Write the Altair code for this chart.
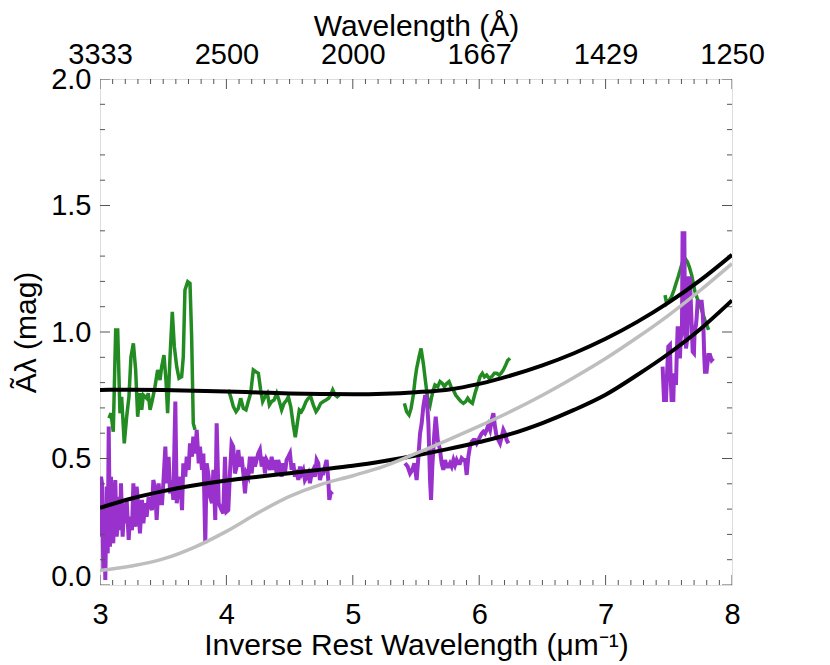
import altair as alt
import pandas as pd

# ---------------- data ----------------
X_DOMAIN = [3, 8]
Y_DOMAIN = [0, 2]

X_MAJOR = [3, 4, 5, 6, 7, 8]
BOTTOM_LABELS = ["3", "4", "5", "6", "7", "8"]
TOP_LABELS = ["3333", "2500", "2000", "1667", "1429", "1250"]
Y_MAJOR = [0, 0.5, 1.0, 1.5, 2.0]
Y_LABELS = ["0.0", "0.5", "1.0", "1.5", "2.0"]

X_TITLE = "Inverse Rest Wavelength (μm⁻¹)"
TOP_TITLE = "Wavelength (Å)"
Y_TITLE = "Ãλ  (mag)"

GREEN_SEG1 = [(3.071, 0.659), (3.087, 0.679), (3.105, 0.606), (3.124, 1.008), (3.140, 1.008),
              (3.158, 0.679), (3.171, 0.744), (3.192, 0.560), (3.211, 0.665), (3.229, 0.744),
              (3.245, 0.902), (3.264, 0.955), (3.282, 0.850), (3.298, 0.665), (3.316, 0.758),
              (3.330, 0.692), (3.343, 0.751), (3.369, 0.738), (3.382, 0.758), (3.396, 0.692),
              (3.414, 0.731), (3.435, 0.784), (3.456, 0.850), (3.475, 0.810), (3.488, 0.863),
              (3.506, 0.909), (3.522, 0.810), (3.535, 0.679), (3.554, 0.902), (3.572, 1.080),
              (3.588, 0.942), (3.607, 0.863), (3.625, 0.817), (3.646, 0.823), (3.659, 0.902),
              (3.672, 1.166), (3.694, 1.199), (3.712, 1.192), (3.725, 0.981), (3.738, 0.639),
              (3.752, 0.613)]
GREEN_SEG2 = [(4.015, 0.771), (4.034, 0.744), (4.055, 0.705), (4.076, 0.685), (4.094, 0.698),
              (4.113, 0.738), (4.134, 0.698), (4.155, 0.692), (4.173, 0.725), (4.192, 0.758),
              (4.213, 0.850), (4.232, 0.843), (4.253, 0.837), (4.271, 0.771), (4.287, 0.725),
              (4.305, 0.744), (4.324, 0.758), (4.340, 0.711), (4.358, 0.725), (4.377, 0.731),
              (4.398, 0.758), (4.419, 0.725), (4.437, 0.692), (4.456, 0.718), (4.477, 0.731),
              (4.490, 0.744), (4.509, 0.705), (4.529, 0.632), (4.545, 0.584), (4.561, 0.639),
              (4.577, 0.692), (4.593, 0.685), (4.608, 0.698), (4.630, 0.725), (4.648, 0.738),
              (4.667, 0.744), (4.688, 0.711), (4.709, 0.685), (4.727, 0.698), (4.746, 0.718),
              (4.767, 0.725), (4.788, 0.731), (4.809, 0.738), (4.825, 0.751), (4.841, 0.771),
              (4.859, 0.751), (4.877, 0.744), (4.893, 0.751)]
GREEN_SEG3 = [(5.408, 0.718), (5.426, 0.685), (5.445, 0.672), (5.461, 0.698), (5.479, 0.751),
              (5.492, 0.810), (5.505, 0.856), (5.524, 0.902), (5.540, 0.935), (5.558, 0.876),
              (5.577, 0.797), (5.592, 0.738), (5.611, 0.711), (5.624, 0.744), (5.637, 0.771),
              (5.650, 0.791), (5.672, 0.784), (5.690, 0.804), (5.708, 0.797), (5.724, 0.784),
              (5.743, 0.797), (5.761, 0.804), (5.777, 0.784), (5.795, 0.771), (5.814, 0.751),
              (5.835, 0.738), (5.856, 0.725), (5.875, 0.718), (5.893, 0.725), (5.909, 0.738),
              (5.927, 0.725), (5.946, 0.718), (5.967, 0.758), (5.988, 0.791), (6.006, 0.823),
              (6.025, 0.837), (6.041, 0.823), (6.059, 0.830), (6.078, 0.817), (6.099, 0.823),
              (6.120, 0.837), (6.138, 0.837), (6.157, 0.830), (6.173, 0.837), (6.191, 0.850),
              (6.210, 0.870), (6.225, 0.887), (6.244, 0.896)]
GREEN_SEG4 = [(7.470, 1.146), (7.483, 1.113), (7.504, 1.126), (7.522, 1.140), (7.541, 1.166),
              (7.557, 1.192), (7.575, 1.219), (7.594, 1.252), (7.609, 1.278), (7.628, 1.291),
              (7.646, 1.278), (7.662, 1.258), (7.681, 1.225), (7.694, 1.192), (7.707, 1.159),
              (7.725, 1.133), (7.747, 1.107), (7.768, 1.074), (7.786, 1.047), (7.805, 1.021),
              (7.815, 1.008)]

PURPLE_SEG1 = [(3.000, 0.191), (3.008, 0.428), (3.016, 0.402), (3.026, 0.059), (3.034, 0.323),
               (3.042, 0.020), (3.053, 0.389), (3.061, 0.125), (3.069, 0.626), (3.079, 0.151),
               (3.087, 0.428), (3.095, 0.217), (3.105, 0.165), (3.113, 0.323), (3.121, 0.415),
               (3.132, 0.191), (3.140, 0.244), (3.148, 0.349), (3.158, 0.217), (3.166, 0.402),
               (3.179, 0.191), (3.193, 0.323), (3.200, 0.244), (3.211, 0.336), (3.227, 0.178),
               (3.237, 0.270), (3.253, 0.217), (3.264, 0.402), (3.280, 0.230), (3.290, 0.389),
               (3.306, 0.296), (3.316, 0.204), (3.332, 0.336), (3.343, 0.244), (3.359, 0.323),
               (3.369, 0.270), (3.385, 0.349), (3.396, 0.323), (3.411, 0.296), (3.422, 0.415),
               (3.438, 0.375), (3.448, 0.257), (3.464, 0.402), (3.475, 0.323), (3.491, 0.323),
               (3.501, 0.402), (3.517, 0.547), (3.527, 0.402), (3.543, 0.507), (3.554, 0.362),
               (3.570, 0.415), (3.580, 0.336), (3.596, 0.725), (3.607, 0.323), (3.622, 0.389),
               (3.633, 0.428), (3.649, 0.296), (3.659, 0.481), (3.675, 0.428), (3.686, 0.507),
               (3.701, 0.455), (3.712, 0.560), (3.728, 0.507), (3.738, 0.586), (3.754, 0.520),
               (3.765, 0.613), (3.781, 0.481), (3.791, 0.547), (3.807, 0.455), (3.818, 0.520),
               (3.833, 0.165), (3.844, 0.481), (3.860, 0.428), (3.870, 0.349), (3.886, 0.323),
               (3.897, 0.455), (3.912, 0.257), (3.923, 0.639), (3.939, 0.323), (3.962, 0.296),
               (3.975, 0.283), (3.989, 0.507), (4.002, 0.290), (4.015, 0.296), (4.028, 0.441),
               (4.041, 0.560), (4.054, 0.547), (4.068, 0.441), (4.081, 0.468), (4.094, 0.534),
               (4.107, 0.468), (4.120, 0.507), (4.134, 0.441), (4.147, 0.362), (4.160, 0.441),
               (4.173, 0.428), (4.186, 0.507), (4.200, 0.441), (4.213, 0.507), (4.226, 0.468),
               (4.239, 0.494), (4.252, 0.520), (4.265, 0.534), (4.279, 0.468), (4.292, 0.507),
               (4.305, 0.441), (4.318, 0.494), (4.331, 0.481), (4.345, 0.455), (4.358, 0.507),
               (4.371, 0.455), (4.384, 0.494), (4.397, 0.441), (4.410, 0.494), (4.424, 0.468),
               (4.437, 0.428), (4.450, 0.481), (4.463, 0.441), (4.476, 0.494), (4.490, 0.507),
               (4.503, 0.520), (4.516, 0.455), (4.529, 0.481), (4.542, 0.428), (4.555, 0.455),
               (4.569, 0.415), (4.582, 0.468), (4.595, 0.441), (4.608, 0.455), (4.621, 0.415),
               (4.635, 0.428), (4.648, 0.441), (4.661, 0.402), (4.674, 0.441), (4.687, 0.455),
               (4.700, 0.428), (4.714, 0.494), (4.727, 0.481), (4.740, 0.415), (4.753, 0.441),
               (4.766, 0.441), (4.780, 0.468), (4.793, 0.494), (4.806, 0.415), (4.814, 0.336),
               (4.824, 0.362), (4.840, 0.369)]
PURPLE_SEG2 = [(5.413, 0.481), (5.434, 0.468), (5.453, 0.441), (5.471, 0.455), (5.487, 0.481),
               (5.505, 0.415), (5.519, 0.507), (5.532, 0.599), (5.545, 0.639), (5.558, 0.705),
               (5.571, 0.744), (5.585, 0.744), (5.598, 0.639), (5.611, 0.415), (5.619, 0.336),
               (5.629, 0.468), (5.645, 0.599), (5.656, 0.665), (5.672, 0.573), (5.690, 0.534),
               (5.703, 0.481), (5.716, 0.455), (5.730, 0.494), (5.743, 0.468), (5.756, 0.468),
               (5.769, 0.481), (5.782, 0.468), (5.796, 0.494), (5.809, 0.474), (5.822, 0.494),
               (5.835, 0.481), (5.848, 0.481), (5.861, 0.501), (5.875, 0.494), (5.888, 0.494),
               (5.901, 0.435), (5.914, 0.507), (5.927, 0.547), (5.941, 0.566), (5.954, 0.573),
               (5.967, 0.573), (5.980, 0.560), (5.993, 0.573), (6.006, 0.586), (6.020, 0.599),
               (6.033, 0.606), (6.046, 0.599), (6.059, 0.613), (6.072, 0.632), (6.086, 0.613),
               (6.099, 0.652), (6.112, 0.679), (6.125, 0.626), (6.138, 0.586), (6.152, 0.573),
               (6.165, 0.560), (6.178, 0.586), (6.191, 0.613), (6.204, 0.599), (6.217, 0.573),
               (6.231, 0.560)]
PURPLE_SEG3 = [(7.451, 0.863), (7.462, 0.731), (7.478, 0.731), (7.488, 0.856), (7.496, 0.942),
               (7.509, 0.949), (7.515, 0.817), (7.522, 0.731), (7.536, 0.731), (7.541, 0.837),
               (7.557, 0.791), (7.562, 0.896), (7.570, 1.015), (7.583, 1.015), (7.588, 0.896),
               (7.594, 0.975), (7.604, 1.001), (7.609, 1.390), (7.623, 1.390), (7.628, 1.028),
               (7.636, 0.935), (7.646, 0.975), (7.657, 1.212), (7.667, 1.212), (7.675, 1.107),
               (7.681, 1.028), (7.689, 0.922), (7.699, 0.916), (7.704, 1.001), (7.715, 1.028),
               (7.720, 1.054), (7.728, 1.120), (7.747, 1.120), (7.760, 1.120), (7.768, 1.080),
               (7.773, 1.028), (7.781, 0.896), (7.786, 0.843), (7.799, 0.843), (7.813, 0.909),
               (7.826, 0.909), (7.839, 0.889), (7.852, 0.896)]

MODEL_X = [3.0, 3.25, 3.5, 3.75, 4.0, 4.25, 4.5, 4.75, 5.0, 5.25, 5.5, 5.75, 6.0, 6.25,
           6.5, 6.75, 7.0, 7.25, 7.5, 7.75, 8.0]
BLACK_UPPER = [0.771, 0.772, 0.771, 0.768, 0.765, 0.761, 0.757, 0.755, 0.754, 0.756, 0.762,
               0.772, 0.795, 0.828, 0.868, 0.916, 0.973, 1.040, 1.117, 1.205, 1.305]
BLACK_LOWER = [0.305, 0.342, 0.371, 0.394, 0.413, 0.428, 0.442, 0.456, 0.471, 0.490, 0.512,
               0.537, 0.565, 0.597, 0.640, 0.692, 0.752, 0.830, 0.915, 1.012, 1.125]
GRAY_CURVE = [0.057, 0.075, 0.103, 0.150, 0.212, 0.285, 0.350, 0.398, 0.432, 0.470, 0.520,
              0.573, 0.628, 0.686, 0.750, 0.820, 0.895, 0.978, 1.067, 1.165, 1.270]

GREEN = "#228B22"
PURPLE = "#9932CC"
GRAY = "#BEBEBE"
FONT = "Liberation Sans"
AXIS_COLOR = "#555555"


def segments_frame(segs, name):
    rows = []
    for i, seg in enumerate(segs):
        for x, y in seg:
            rows.append({"x": x, "y": y, "seg": f"{name}{i}"})
    return pd.DataFrame(rows)


green_df = segments_frame([GREEN_SEG1, GREEN_SEG2, GREEN_SEG3, GREEN_SEG4], "g")
purple_df = segments_frame([PURPLE_SEG1, PURPLE_SEG2, PURPLE_SEG3], "p")
upper_df = pd.DataFrame({"x": MODEL_X, "y": BLACK_UPPER})
lower_df = pd.DataFrame({"x": MODEL_X, "y": BLACK_LOWER})
gray_df = pd.DataFrame({"x": MODEL_X, "y": GRAY_CURVE})

# tick positions (every 0.1)
x_ticks = [round(X_DOMAIN[0] + 0.1 * i, 1) for i in range(51)]
y_ticks = [round(Y_DOMAIN[0] + 0.1 * i, 1) for i in range(21)]


def is_major_val(v, majors):
    return any(abs(v - m) < 1e-6 for m in majors)


def label_expr(majors, labels):
    expr = "''"
    for m, lab in reversed(list(zip(majors, labels))):
        expr = f"abs(datum.value - {m}) < 0.001 ? '{lab}' : ({expr})"
    return expr


x_scale = alt.Scale(domain=X_DOMAIN, nice=False, zero=False)
y_scale = alt.Scale(domain=Y_DOMAIN, nice=False, zero=False)

common = dict(domain=False, grid=False, ticks=False,
              labelFont=FONT, labelFontSize=29, labelColor="black",
              labelFlush=False, labelOverlap=False,
              titleFont=FONT, titleFontSize=30, titleFontWeight="normal", titleColor="black")

bottom_axis = alt.Axis(orient="bottom", values=x_ticks, labelExpr=label_expr(X_MAJOR, BOTTOM_LABELS),
                       labelPadding=15, labelAngle=0,
                       title=X_TITLE, titlePadding=1, **common)
top_axis = alt.Axis(orient="top", values=x_ticks, labelExpr=label_expr(X_MAJOR, TOP_LABELS),
                    labelPadding=10, labelAngle=0,
                    title=TOP_TITLE, titlePadding=-1, **common)
left_axis = alt.Axis(orient="left", values=y_ticks, labelExpr=label_expr(Y_MAJOR, Y_LABELS),
                     labelPadding=9,
                     labelOffset={"condition": {"test": "abs(datum.value) < 0.001", "value": -9}, "value": 0},
                     title=Y_TITLE, titlePadding=9, **common)

# inward tick marks: a tick centred on the frame edge, clipped to the plot area
tick_rows = []
for v in x_ticks:
    big = is_major_val(v, X_MAJOR)
    tick_rows.append({"x": v, "y": Y_DOMAIN[0], "dir": "v", "major": big})
    tick_rows.append({"x": v, "y": Y_DOMAIN[1], "dir": "v", "major": big})
for v in y_ticks:
    big = is_major_val(v, Y_MAJOR)
    tick_rows.append({"x": X_DOMAIN[0], "y": v, "dir": "h", "major": big})
    tick_rows.append({"x": X_DOMAIN[1], "y": v, "dir": "h", "major": big})
ticks_df = pd.DataFrame(tick_rows)


def tick_layer(direction, major):
    sub = ticks_df[(ticks_df["dir"] == direction) & (ticks_df["major"] == major)]
    return alt.Chart(sub).mark_tick(
        orient="vertical" if direction == "v" else "horizontal",
        size=20 if major else 10, thickness=1, color=AXIS_COLOR, clip=True, opacity=1,
    ).encode(
        x=alt.X("x:Q", scale=x_scale, axis=None),
        y=alt.Y("y:Q", scale=y_scale, axis=None),
    )


green_layer = alt.Chart(green_df).mark_line(color=GREEN, strokeWidth=3.5, clip=True).encode(
    x=alt.X("x:Q", scale=x_scale, axis=bottom_axis),
    y=alt.Y("y:Q", scale=y_scale, axis=left_axis),
    detail="seg:N",
)
purple_layer = alt.Chart(purple_df).mark_line(color=PURPLE, strokeWidth=4, clip=True).encode(
    x=alt.X("x:Q", scale=x_scale, axis=top_axis),
    y=alt.Y("y:Q", scale=y_scale, axis=None),
    detail="seg:N",
)


def model_layer(df, color, width):
    return alt.Chart(df).mark_line(color=color, strokeWidth=width, interpolate="monotone", clip=True).encode(
        x=alt.X("x:Q", scale=x_scale, axis=None),
        y=alt.Y("y:Q", scale=y_scale, axis=None),
    )


chart = alt.layer(
    green_layer,
    purple_layer,
    tick_layer("v", True),
    tick_layer("v", False),
    tick_layer("h", True),
    tick_layer("h", False),
    model_layer(upper_df, "black", 4),
    model_layer(lower_df, "black", 4),
    model_layer(gray_df, GRAY, 3.5),
).resolve_axis(x="independent", y="independent").properties(
    width=632, height=506,
    autosize="none",
    padding={"left": 92, "top": 71, "right": 90, "bottom": 80},
).configure_view(stroke=AXIS_COLOR, strokeWidth=1.5).configure(font=FONT)

chart.save("out.html", embed_options={"renderer": "svg", "actions": False})
